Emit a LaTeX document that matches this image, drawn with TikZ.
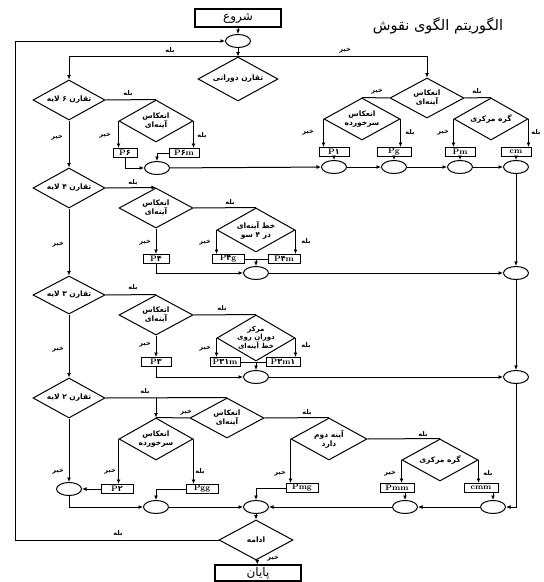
\documentclass[tikz,border=0pt]{standalone}
\usepackage{fontspec}
\usepackage{tikz}
\usetikzlibrary{shapes.geometric,arrows.meta,calc}
\newfontfamily\arabicfont[Script=Arabic]{DejaVu Sans}
\TeXXeTstate=1
\newcommand{\fatxt}[1]{{\arabicfont\beginR#1\endR}}
\newcommand{\dg}[1]{{\arabicfont#1}}
\tikzset{
  rombo/.style={diamond,draw,line width=1pt,inner sep=0pt,minimum width=74pt,minimum height=40pt},
  txt/.style={align=center,inner sep=0pt,font=\fontsize{7.5}{9}\selectfont\bfseries},
  caja/.style={rectangle,draw,line width=1pt,inner sep=0pt,minimum width=30pt,minimum height=9pt,font=\fontsize{8}{8}\selectfont\bfseries},
  nudo/.style={ellipse,draw,line width=1pt,inner sep=0pt,minimum width=25pt,minimum height=13pt},
  terminal/.style={rectangle,draw,line width=1.1pt,inner sep=0pt,minimum width=86pt,minimum height=18pt,font=\fontsize{12}{13}\selectfont},
  titulo/.style={inner sep=0pt,font=\fontsize{14.5}{15}\selectfont},
  etq/.style={inner sep=0pt,font=\fontsize{6.5}{7}\selectfont\bfseries},
  linea/.style={line width=1pt},
  flujo/.style={line width=1pt,-{Latex[length=4.5pt,width=4pt]}}
}

\begin{document}
\begin{tikzpicture}[x=1pt,y=-1pt]
\useasboundingbox (0,0) rectangle (544,582);
% inicio
\node[terminal] (ini) at (238,18) {\fatxt{شروع}};
\node[titulo] (tit) at (438,26) {\fatxt{الگوریتم الگوی نقوش}};
\node[nudo] (c0) at (238,41) {};
\node[rombo,minimum width=80pt,minimum height=44pt] (rot) at (238,79) {}; \node[txt] (rot-t) at (rot) {\fatxt{تقارن دورانی}};
% nivel 6
\node[rombo,minimum width=72pt] (six) at (69,100) {}; \node[txt] (six-t) at (six) {\fatxt{تقارن ۶ لایه}};
\node[rombo,minimum height=42pt] (m6) at (156,121) {}; \node[txt] (m6-t) at (m6) {\fatxt{انعکاس}\\\fatxt{آینه‌ای}};
\node[caja,minimum width=24pt] (p6) at (125,153) {P\dg{۶}};
\node[caja] (p6m) at (184,153) {P\dg{۶}m};
\node[nudo] (j6) at (157,168) {};
% sin rotacion
\node[rombo] (mA) at (427,98) {}; \node[txt] (mA-t) at (mA) {\fatxt{انعکاس}\\\fatxt{آینه‌ای}};
\node[rombo,minimum width=76pt,minimum height=42pt] (g1) at (362,119) {}; \node[txt] (g1-t) at (g1) {\fatxt{انعکاس}\\\fatxt{سرخورده}};
\node[rombo,minimum height=42pt] (c1) at (491,119) {}; \node[txt] (c1-t) at (c1) {\fatxt{گره مرکزی}};
\node[caja] (p1) at (334,152) {P\dg{۱}};
\node[caja,minimum width=34pt] (pg) at (394,152) {Pg};
\node[caja] (pm) at (460,152) {Pm};
\node[caja] (cm) at (516,152) {cm};
\node[nudo] (n1) at (334,167) {};
\node[nudo] (n2) at (394,167) {};
\node[nudo] (n3) at (460,167) {};
\node[nudo] (n4) at (516,167) {};
\draw[flujo] (ini) -- (c0);
\draw[flujo] (c0) -- (rot.north);
\draw[flujo] (rot.north) -| (six.north);
\draw[flujo] (rot.north) -| (mA.north);
\node[etq] (e1) at (170,51) {\fatxt{بله}};
\node[etq] (e2) at (345,51) {\fatxt{خیر}};
\draw[linea] (six.east) -- (m6.north);
\draw[flujo] (m6.west) -- (m6.west |- p6.north);
\draw[flujo] (m6.east) -- (m6.east |- p6m.north);
\draw[flujo] (p6.south) |- (j6.west);
\draw[flujo] (p6m.west) -| (j6.north);
\node[etq] (e3) at (128,94) {\fatxt{بله}};
\node[etq] (e4) at (105,136) {\fatxt{خیر}};
\node[etq] (e5) at (202,136) {\fatxt{بله}};
\draw[linea] (mA.west) -- (g1.north);
\draw[linea] (mA.east) -- (c1.north);
\draw[flujo] (g1.west) -- (g1.west |- p1.north);
\draw[flujo] (g1.east) -- (g1.east |- pg.north);
\draw[flujo] (c1.west) -- (c1.west |- pm.north);
\draw[flujo] (c1.east) -- (c1.east |- cm.north);
\node[etq] (e6) at (377,92) {\fatxt{خیر}};
\node[etq] (e7) at (477,92) {\fatxt{بله}};
\node[etq] (e8) at (308,133) {\fatxt{خیر}};
\node[etq] (e9) at (410,133) {\fatxt{بله}};
\node[etq] (e10) at (443,133) {\fatxt{خیر}};
\node[etq] (e11) at (536,133) {\fatxt{بله}};
\draw[flujo] (p1) -- (n1);
\draw[flujo] (pg) -- (n2);
\draw[flujo] (pm) -- (n3);
\draw[flujo] (cm) -- (n4);
\draw[flujo] (j6) -- (n1);
\draw[flujo] (n1) -- (n2);
\draw[flujo] (n2) -- (n3);
\draw[flujo] (n3) -- (n4);
% nivel 4
\node[rombo,minimum width=72pt] (four) at (69,188) {}; \node[txt] (four-t) at (four) {\fatxt{تقارن ۴ لایه}};
\node[rombo] (m4) at (156,208) {}; \node[txt] (m4-t) at (m4) {\fatxt{انعکاس}\\\fatxt{آینه‌ای}};
\node[rombo,minimum width=78pt,minimum height=44pt] (l4) at (256,230) {}; \node[txt] (l4-t) at (l4) {\fatxt{خط آینه‌ای}\\\fatxt{در ۴ سو}};
\node[caja,minimum width=26pt] (p4) at (156,259) {P\dg{۴}};
\node[caja,minimum width=32pt] (p4g) at (228,259) {P\dg{۴}g};
\node[caja,minimum width=32pt] (p4m) at (284,259) {P\dg{۴}m};
\node[nudo] (k4) at (256,273) {};
\node[nudo] (r4) at (516,273) {};
\draw[flujo] (six) -- (four);
\draw[flujo] (four.east) -- (m4.north);
\draw[flujo] (m4) -- (p4);
\draw[linea] (m4.east) -- (l4.north);
\draw[flujo] (l4.west) -- (l4.west |- p4g.north);
\draw[flujo] (l4.east) -- (l4.east |- p4m.north);
\draw[linea] (p4g) -- (p4m);
\draw[flujo] (p4m.west) -| (k4.north);
\draw[flujo] (p4.south) |- (k4.west);
\draw[flujo] (k4) -- (r4);
\draw[flujo] (n4) -- (r4);
\node[etq] (e12) at (57,138) {\fatxt{خیر}};
\node[etq] (e13) at (133,183) {\fatxt{بله}};
\node[etq] (e14) at (145,243) {\fatxt{خیر}};
\node[etq] (e15) at (230,203) {\fatxt{بله}};
\node[etq] (e16) at (205,243) {\fatxt{خیر}};
\node[etq] (e17) at (306,242) {\fatxt{بله}};
% nivel 3
\node[rombo,minimum width=72pt,minimum height=38pt] (three) at (69,295) {}; \node[txt] (three-t) at (three) {\fatxt{تقارن ۳ لایه}};
\node[rombo] (m3) at (156,315) {}; \node[txt] (m3-t) at (m3) {\fatxt{انعکاس}\\\fatxt{آینه‌ای}};
\node[rombo,minimum width=78pt,minimum height=46pt] (c3) at (256,338) {}; \node[txt,font=\fontsize{7}{8}\selectfont\bfseries] (c3-t) at (c3) {\fatxt{مرکز}\\\fatxt{دوران روی}\\\fatxt{خط آینه‌ای}};
\node[caja] (p3) at (156,362) {P\dg{۳}};
\node[caja] (p31m) at (225,362) {P\dg{۳۱}m};
\node[caja,minimum width=34pt] (p3m1) at (283,362) {P\dg{۳}m\dg{۱}};
\node[nudo] (k3) at (256,377) {};
\node[nudo] (r3) at (516,377) {};
\draw[flujo] (four) -- (three);
\draw[linea] (three.east) -- (m3.north);
\draw[flujo] (m3) -- (p3);
\draw[linea] (m3.east) -- (c3.north);
\draw[flujo] (c3.west) -- (c3.west |- p31m.north);
\draw[flujo] (c3.east) -- (c3.east |- p3m1.north);
\draw[linea] (p31m) -- (p3m1);
\draw[flujo] (p3m1.west) -| (k3.north);
\draw[flujo] (p3.south) |- (k3.west);
\draw[flujo] (k3) -- (r3);
\draw[flujo] (r4) -- (r3);
\node[etq] (e18) at (58,245) {\fatxt{خیر}};
\node[etq] (e19) at (133,288) {\fatxt{بله}};
\node[etq] (e20) at (145,345) {\fatxt{خیر}};
\node[etq] (e21) at (222,309) {\fatxt{بله}};
\node[etq] (e22) at (205,349) {\fatxt{خیر}};
\node[etq] (e23) at (306,346) {\fatxt{بله}};
% nivel 2
\node[rombo,minimum width=72pt] (two) at (69,398) {}; \node[txt] (two-t) at (two) {\fatxt{تقارن ۲ لایه}};
\node[rombo] (m2) at (227,418) {}; \node[txt] (m2-t) at (m2) {\fatxt{انعکاس}\\\fatxt{آینه‌ای}};
\node[rombo,minimum height=42pt] (g2) at (156,439) {}; \node[txt] (g2-t) at (g2) {\fatxt{انعکاس}\\\fatxt{سرخورده}};
\node[rombo,minimum width=76pt,minimum height=42pt] (sec) at (329,439) {}; \node[txt] (sec-t) at (sec) {\fatxt{آینه دوم}\\\fatxt{دارد}};
\node[rombo,minimum width=76pt,minimum height=42pt] (c2) at (440,460) {}; \node[txt] (c2-t) at (c2) {\fatxt{گره مرکزی}};
\node[caja,minimum width=32pt] (p2) at (117,489) {P\dg{۲}};
\node[caja,minimum width=32pt] (pgg) at (202,489) {Pgg};
\node[caja,minimum width=32pt] (pmg) at (302,488) {Pmg};
\node[caja,minimum width=34pt] (pmm) at (397,488) {Pmm};
\node[caja,minimum width=34pt] (cmm) at (481,488) {cmm};
\node[nudo] (j2a) at (69,489) {};
\node[nudo] (j2b) at (156,507) {};
\node[nudo] (f0) at (256,507) {};
\node[nudo] (jmm) at (405,507) {};
\node[nudo] (jcmm) at (493,507) {};
\draw[flujo] (three) -- (two);
\draw[linea] (two.east) -- (m2.north);
\draw[flujo] (g2.north |- two.east) -- (g2.north);
\draw[linea] (m2.west) -- (g2.north);
\draw[linea] (m2.east) -- (sec.north);
\draw[linea] (sec.east) -- (c2.north);
\draw[flujo] (g2.west) -- (g2.west |- p2.north);
\draw[flujo] (g2.east) -- (g2.east |- pgg.north);
\draw[flujo] (sec.west) -- (sec.west |- pmg.north);
\draw[flujo] (c2.west) -- (c2.west |- pmm.north);
\draw[flujo] (c2.east) -- (c2.east |- cmm.north);
\draw[flujo] (two) -- (j2a);
\draw[flujo] (p2) -- (j2a);
\draw[flujo] (j2a.south) |- (j2b.west);
\draw[flujo] (pgg.west) -| (j2b.north);
\draw[flujo] (j2b) -- (f0);
\draw[flujo] (pmg.west) -| (f0.north);
\draw[flujo] (jmm.north |- pmm.south) -- (jmm.north);
\draw[flujo] (jcmm.north |- cmm.south) -- (jcmm.north);
\draw[flujo] (r3.south) |- (jcmm.east);
\draw[flujo] (jcmm) -- (jmm);
\draw[flujo] (jmm) -- (f0);
\node[etq] (e24) at (58,350) {\fatxt{خیر}};
\node[etq] (e25) at (145,392) {\fatxt{بله}};
\node[etq] (e26) at (186,413) {\fatxt{خیر}};
\node[etq] (e27) at (307,413) {\fatxt{بله}};
\node[etq] (e28) at (423,435) {\fatxt{بله}};
\node[etq] (e29) at (58,472) {\fatxt{خیر}};
\node[etq] (e30) at (110,472) {\fatxt{خیر}};
\node[etq] (e31) at (200,472) {\fatxt{بله}};
\node[etq] (e32) at (280,474) {\fatxt{خیر}};
\node[etq] (e33) at (390,474) {\fatxt{خیر}};
\node[etq] (e34) at (488,474) {\fatxt{بله}};
% fin y vuelta
\node[rombo] (cont) at (256,540) {}; \node[txt] (cont-t) at (cont) {\fatxt{ادامه}};
\node[terminal,minimum height=16pt] (fin) at (258,573) {\fatxt{پایان}};
\coordinate (vuelta) at (15,540);
\draw[flujo] (f0) -- (cont);
\draw[flujo] (cont) -- (fin);
\draw[flujo] (cont.west) -- (vuelta) |- (c0.west);
\node[etq] (e35) at (118,534) {\fatxt{بله}};
\node[etq] (e36) at (273,559) {\fatxt{خیر}};
\end{tikzpicture}
\end{document}
